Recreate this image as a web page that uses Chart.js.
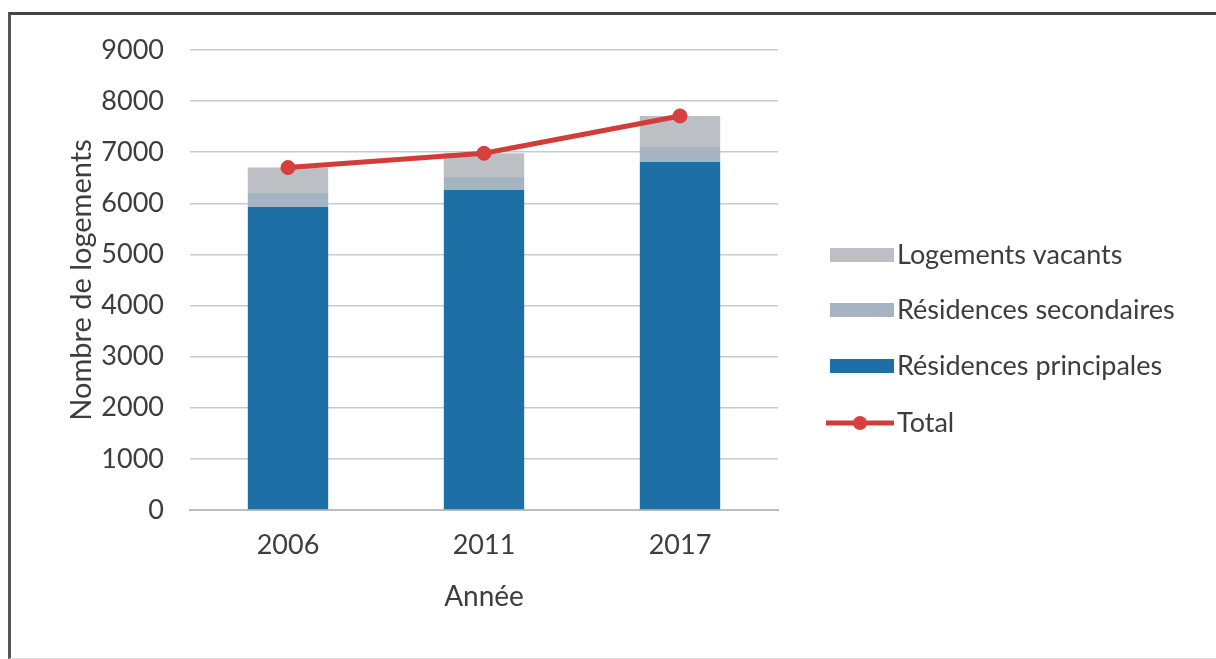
<!DOCTYPE html>
<html>
<head>
<meta charset="utf-8">
<script src="https://cdn.jsdelivr.net/npm/chart.js@4"></script>
<style>
  body { margin: 0; background: #fff; }
  #wrap { position: relative; width: 1216px; height: 659px; }
  #frame {
    position: absolute; left: 8px; top: 12px; width: 1216px; height: 643px;
    border-left: 3px solid #555; border-top: 3px solid #444; border-bottom: 1px solid #ddd;
    pointer-events: none;
  }
</style>
</head>
<body>
<div id="wrap">
  <canvas id="chart" width="1216" height="659"></canvas>
  <div id="frame"></div>
</div>
<script>
// Data

const years = ['2006', '2011', '2017'];
const principales = [5930, 6260, 6810];
const secondaires = [270, 255, 290];
const vacants = [500, 465, 610];
const total = [6700, 6980, 7710];
const yTicks = [0, 1000, 2000, 3000, 4000, 5000, 6000, 7000, 8000, 9000];

const textColor = '#3d3d3d';
const fontFamily = 'Lato, "Open Sans", sans-serif';

// Legend drawn by hand at right (vacants, secondaires, principales, total)

const legendPlugin = {
  id: 'sideLegend',
  afterDraw(chart) {
    const ctx = chart.ctx;
    const items = [3, 2, 1, 0].map(i => chart.data.datasets[i]);
    const ys = [255, 310, 366, 423];
    ctx.save();
    ctx.font = '27px ' + fontFamily;
    ctx.textBaseline = 'middle';
    items.forEach((ds, k) => {
      const y = ys[k];
      if (ds.type === 'line') {
        ctx.strokeStyle = ds.borderColor;
        ctx.lineWidth = 5;
        ctx.beginPath();
        ctx.moveTo(826, y);
        ctx.lineTo(894, y);
        ctx.stroke();
        ctx.fillStyle = ds.pointBackgroundColor;
        ctx.beginPath();
        ctx.arc(860, y, 7, 0, Math.PI * 2);
        ctx.fill();
      } else {
        ctx.fillStyle = ds.backgroundColor;
        ctx.fillRect(830, y - 7, 64, 14);
      }
      ctx.fillStyle = textColor;
      ctx.fillText(ds.label, 897, y);
    });
    ctx.restore();
  }
};

const ctx = document.getElementById('chart');

const myChart = new Chart(ctx, {
  data: {
    labels: years,
    datasets: [
      {
        type: 'line',
        label: 'Total',
        data: total,
        stack: 'total',
        borderColor: '#d23c3a',
        borderWidth: 5,
        pointRadius: 7,
        pointBackgroundColor: '#d8403e',
        pointBorderColor: '#d23c3a',
        pointBorderWidth: 1,
        order: 0,
      },
      {
        type: 'bar',
        label: 'Résidences principales',
        data: principales,
        stack: 'a',
        backgroundColor: '#1d6fa5',
        order: 1,
      },
      {
        type: 'bar',
        label: 'Résidences secondaires',
        data: secondaires,
        stack: 'a',
        backgroundColor: '#a6b3c1',
        order: 1,
      },
      {
        type: 'bar',
        label: 'Logements vacants',
        data: vacants,
        stack: 'a',
        backgroundColor: '#bcbfc3',
        order: 1,
      },
    ]
  },

  options: {
    responsive: false,
    animation: false,
    layout: { padding: { left: 10, right: 438, top: 50, bottom: 0 } },
    datasets: {
      bar: { categoryPercentage: 1, barPercentage: 0.41 }
    },
    plugins: {
      legend: { display: false },
      tooltip: { enabled: false },
    },
    scales: {
      x: {
        stacked: true,
        grid: { display: false, drawTicks: false },
        border: { color: '#bdbdbd', width: 2 },
        ticks: { color: textColor, font: { family: fontFamily, size: 27 }, padding: 19 },
        title: {
          display: true, text: 'Année', color: textColor,
          font: { family: fontFamily, size: 28 }, padding: { top: 0, bottom: 45 }
        },
        afterFit(scale) { scale.height = 149; },
      },
      y: {
        stacked: true,
        min: 0,
        max: 9000,
        afterBuildTicks(scale) { scale.ticks = yTicks.map(v => ({ value: v })); },
        grid: { color: '#cacaca', lineWidth: 1.5, drawTicks: false },
        border: { display: false },
        ticks: {
          color: textColor, font: { family: fontFamily, size: 27 }, padding: 26,
          callback: value => String(value),
        },
        title: {
          display: true, text: 'Nombre de logements', color: textColor,
          font: { family: fontFamily, size: 29 }, padding: { top: 54, bottom: 0 }
        },
        afterFit(scale) { scale.width = 180; },
      }
    }
  },
  plugins: [legendPlugin]
});
</script>
</body>
</html>
